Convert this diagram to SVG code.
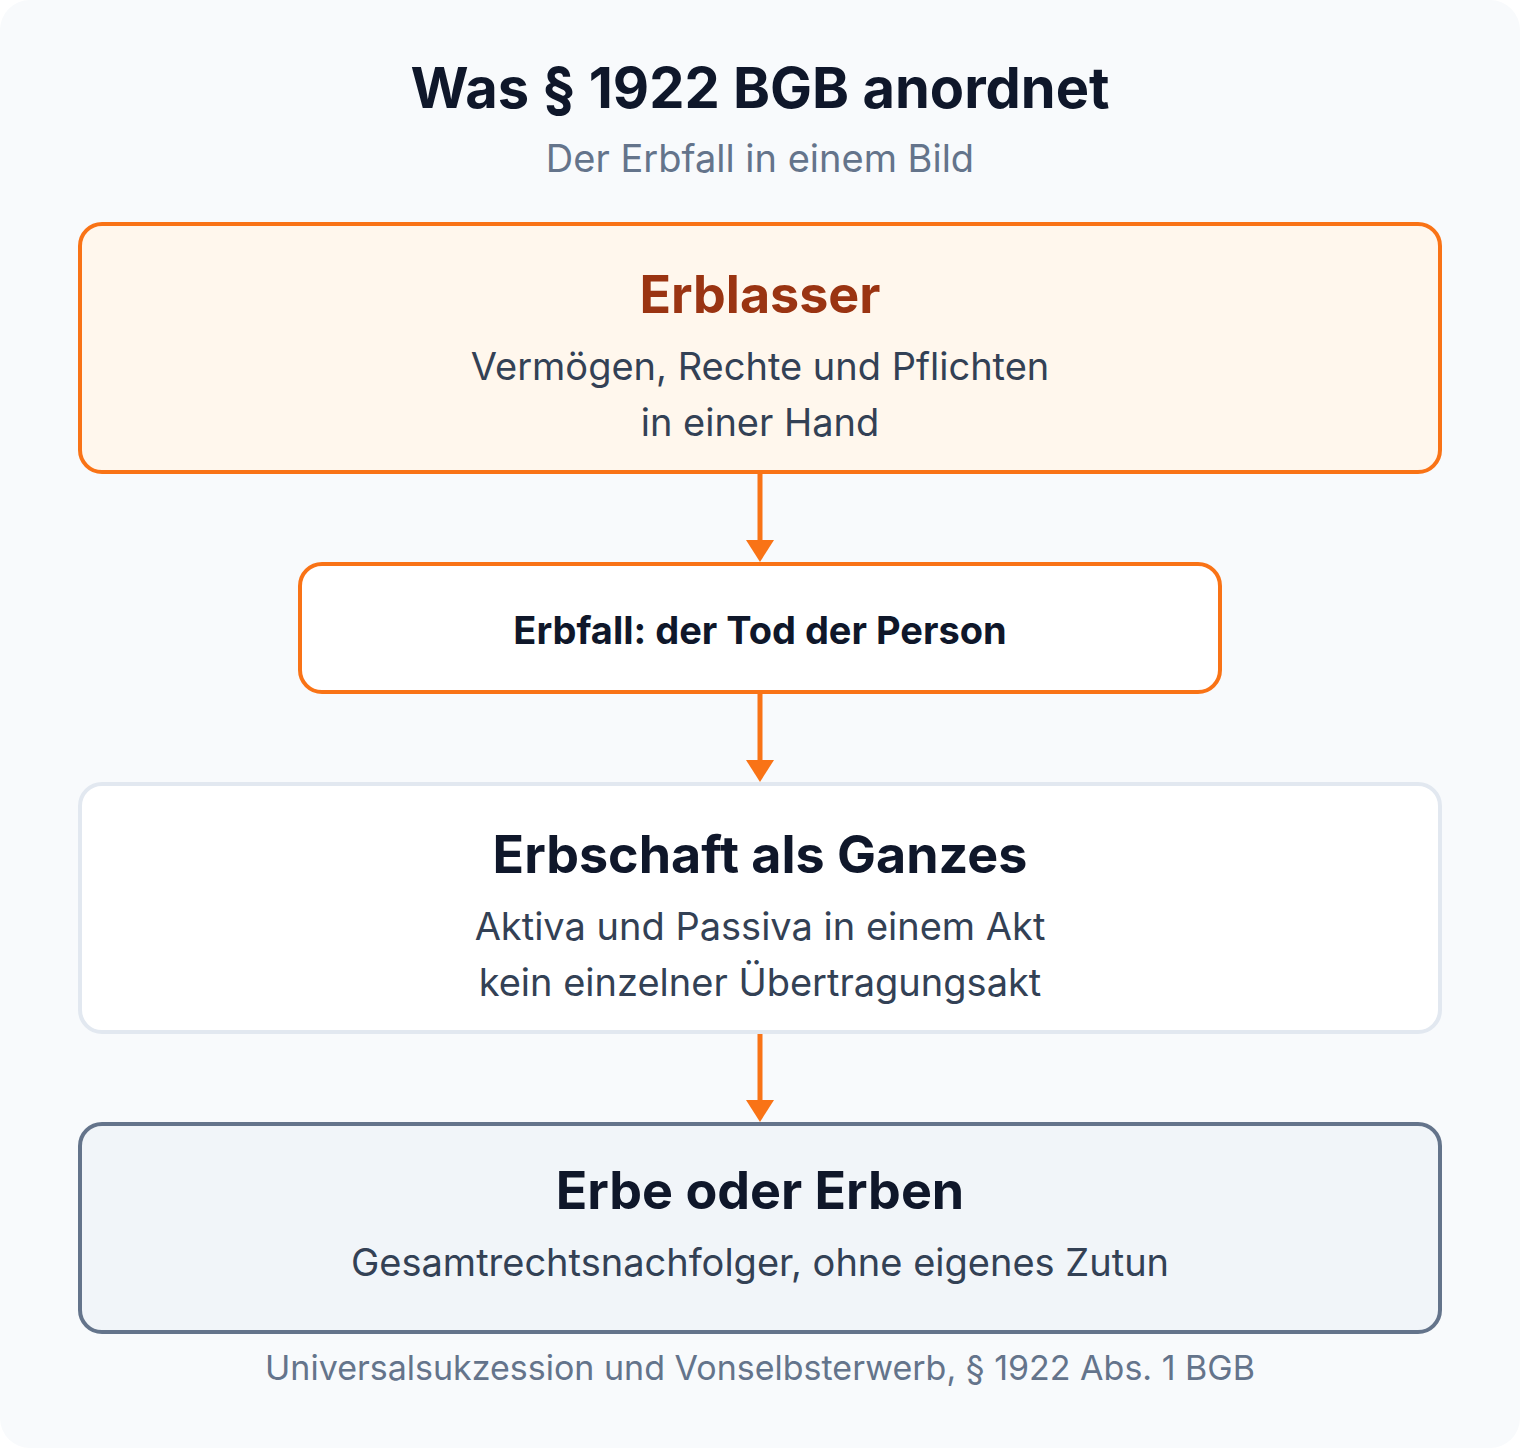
<svg xmlns="http://www.w3.org/2000/svg" width="1520" height="1448" viewBox="0 0 1520 1448">
<style>
text{font-family:Inter,"Noto Sans","Liberation Sans",sans-serif;text-anchor:middle}
.t{font-size:56px;font-weight:700;fill:#0f172a}
.s{font-size:38px;fill:#64748b}
.h{font-size:52px;font-weight:700;fill:#0f172a}
.b{font-size:38px;fill:#334155}
.m{font-size:38px;font-weight:700;fill:#0f172a}
.f{font-size:34px;fill:#64748b}
.c{stroke:#f97316;stroke-width:5;fill:none}
.a{fill:#f97316}
</style>
<rect x="0" y="0" width="1520" height="1448" fill="#ffffff"/>
<rect x="0" y="0" width="1520" height="1448" rx="30" fill="#f8fafc"/>
<g id="title">
<text class="t" x="760" y="108">Was § 1922 BGB anordnet</text>
<text class="s" x="760" y="172">Der Erbfall in einem Bild</text>
</g>
<g id="connectors">
<line class="c" x1="760" y1="472" x2="760" y2="541"/>
<path class="a" d="M746 540L774 540L760 562Z"/>
<line class="c" x1="760" y1="692" x2="760" y2="761"/>
<path class="a" d="M746 760L774 760L760 782Z"/>
<line class="c" x1="760" y1="1032" x2="760" y2="1101"/>
<path class="a" d="M746 1100L774 1100L760 1122Z"/>
</g>
<g id="erblasser">
<rect x="80" y="224" width="1360" height="248" rx="22" fill="#fff7ed" stroke="#f97316" stroke-width="4"/>
<text class="h" x="760" y="313" style="fill:#9a3412">Erblasser</text>
<text class="b" x="760" y="380">Vermögen, Rechte und Pflichten</text>
<text class="b" x="760" y="436">in einer Hand</text>
</g>
<g id="erbfall">
<rect x="300" y="564" width="920" height="128" rx="22" fill="#ffffff" stroke="#f97316" stroke-width="4"/>
<text class="m" x="760" y="644">Erbfall: der Tod der Person</text>
</g>
<g id="erbschaft">
<rect x="80" y="784" width="1360" height="248" rx="22" fill="#ffffff" stroke="#e2e8f0" stroke-width="4"/>
<text class="h" x="760" y="873">Erbschaft als Ganzes</text>
<text class="b" x="760" y="940">Aktiva und Passiva in einem Akt</text>
<text class="b" x="760" y="996">kein einzelner Übertragungsakt</text>
</g>
<g id="erben">
<rect x="80" y="1124" width="1360" height="208" rx="22" fill="#f1f5f9" stroke="#64748b" stroke-width="4"/>
<text class="h" x="760" y="1209">Erbe oder Erben</text>
<text class="b" x="760" y="1276">Gesamtrechtsnachfolger, ohne eigenes Zutun</text>
</g>
<g id="footer">
<text class="f" x="760" y="1380">Universalsukzession und Vonselbsterwerb, § 1922 Abs. 1 BGB</text>
</g>
</svg>
